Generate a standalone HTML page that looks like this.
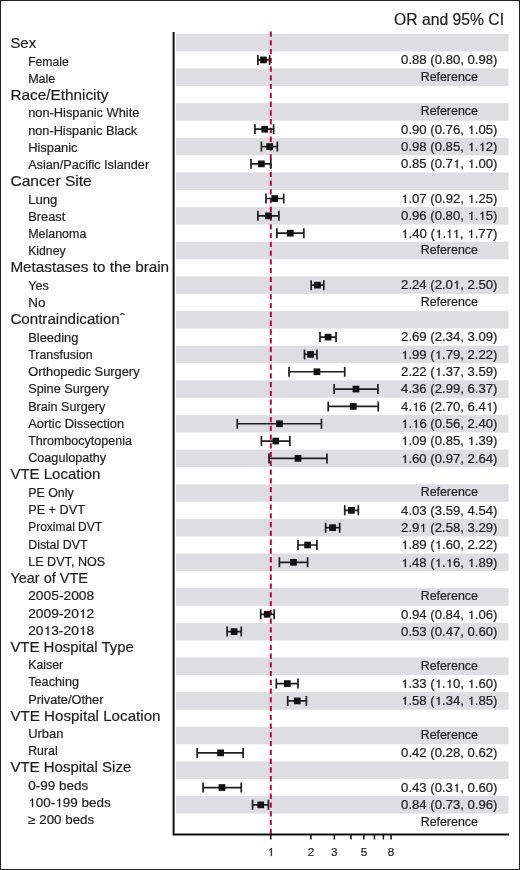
<!DOCTYPE html><html><head><meta charset="utf-8"><style>html,body{margin:0;padding:0;background:#fff;}svg{display:block;will-change:transform;}text{font-family:"Liberation Sans",sans-serif;stroke:#1e1e1e;stroke-width:0.2px;}.o1{fill:none;stroke:none;}</style></head><body>
<svg width="520" height="870" viewBox="0 0 520 870">
<rect x="0" y="0" width="520" height="870" fill="#fff"/>
<rect x="176" y="33.85" width="332.50" height="17.50" fill="#dedde2"/>
<rect x="176" y="68.50" width="332.50" height="17.50" fill="#dedde2"/>
<rect x="176" y="103.15" width="332.50" height="17.50" fill="#dedde2"/>
<rect x="176" y="137.80" width="332.50" height="17.50" fill="#dedde2"/>
<rect x="176" y="172.44" width="332.50" height="17.50" fill="#dedde2"/>
<rect x="176" y="207.09" width="332.50" height="17.50" fill="#dedde2"/>
<rect x="176" y="241.74" width="332.50" height="17.50" fill="#dedde2"/>
<rect x="176" y="276.39" width="332.50" height="17.50" fill="#dedde2"/>
<rect x="176" y="311.04" width="332.50" height="17.50" fill="#dedde2"/>
<rect x="176" y="345.68" width="332.50" height="17.50" fill="#dedde2"/>
<rect x="176" y="380.33" width="332.50" height="17.50" fill="#dedde2"/>
<rect x="176" y="414.98" width="332.50" height="17.50" fill="#dedde2"/>
<rect x="176" y="449.63" width="332.50" height="17.50" fill="#dedde2"/>
<rect x="176" y="484.28" width="332.50" height="17.50" fill="#dedde2"/>
<rect x="176" y="518.92" width="332.50" height="17.50" fill="#dedde2"/>
<rect x="176" y="553.57" width="332.50" height="17.50" fill="#dedde2"/>
<rect x="176" y="588.22" width="332.50" height="17.50" fill="#dedde2"/>
<rect x="176" y="622.87" width="332.50" height="17.50" fill="#dedde2"/>
<rect x="176" y="657.52" width="332.50" height="17.50" fill="#dedde2"/>
<rect x="176" y="692.16" width="332.50" height="17.50" fill="#dedde2"/>
<rect x="176" y="726.81" width="332.50" height="17.50" fill="#dedde2"/>
<rect x="176" y="761.46" width="332.50" height="17.50" fill="#dedde2"/>
<rect x="176" y="796.11" width="332.50" height="17.50" fill="#dedde2"/>
<text x="394.0" y="25.0" font-size="15.6" textLength="110.0" lengthAdjust="spacingAndGlyphs" fill="#1e1e1e">OR and 95% CI</text>
<text x="10.4" y="48.20" font-size="15.5" textLength="25.72" lengthAdjust="spacingAndGlyphs" fill="#1e1e1e">Sex</text>
<text x="28.2" y="65.74" font-size="12.5" textLength="40.49" lengthAdjust="spacingAndGlyphs" fill="#1e1e1e">Female</text>
<text x="449.3" y="64.20" font-size="12" text-anchor="middle" textLength="96.4" lengthAdjust="spacingAndGlyphs" fill="#1e1e1e">0.88 (0.80, 0.98)</text>
<text x="28.2" y="82.99" font-size="12.5" textLength="27.09" lengthAdjust="spacingAndGlyphs" fill="#1e1e1e">Male</text>
<text x="449.3" y="80.53" font-size="12" text-anchor="middle" textLength="57.2" lengthAdjust="spacingAndGlyphs" fill="#1e1e1e">Reference</text>
<text x="10.4" y="99.93" font-size="15.5" textLength="98.08" lengthAdjust="spacingAndGlyphs" fill="#1e1e1e">Race/Ethnicity</text>
<text x="28.2" y="117.47" font-size="12.5" textLength="111.19" lengthAdjust="spacingAndGlyphs" fill="#1e1e1e">non-Hispanic White</text>
<text x="449.3" y="115.19" font-size="12" text-anchor="middle" textLength="57.2" lengthAdjust="spacingAndGlyphs" fill="#1e1e1e">Reference</text>
<text x="28.2" y="134.71" font-size="12.5" textLength="109.00" lengthAdjust="spacingAndGlyphs" fill="#1e1e1e">non-Hispanic Black</text>
<text x="449.3" y="133.52" font-size="12" text-anchor="middle" textLength="96.4" lengthAdjust="spacingAndGlyphs" fill="#1e1e1e">0.90 (0.76, <tspan class="o1">1</tspan>.05)</text>
<text x="28.2" y="151.96" font-size="12.5" textLength="49.34" lengthAdjust="spacingAndGlyphs" fill="#1e1e1e">Hispanic</text>
<text x="449.3" y="150.85" font-size="12" text-anchor="middle" textLength="96.4" lengthAdjust="spacingAndGlyphs" fill="#1e1e1e">0.98 (0.85, <tspan class="o1">1</tspan>.<tspan class="o1">1</tspan>2)</text>
<text x="28.2" y="169.20" font-size="12.5" textLength="120.92" lengthAdjust="spacingAndGlyphs" fill="#1e1e1e">Asian/Pacific Islander</text>
<text x="449.3" y="168.18" font-size="12" text-anchor="middle" textLength="96.4" lengthAdjust="spacingAndGlyphs" fill="#1e1e1e">0.85 (0.7<tspan class="o1">1</tspan>, <tspan class="o1">1</tspan>.00)</text>
<text x="10.4" y="186.14" font-size="15.5" textLength="81.38" lengthAdjust="spacingAndGlyphs" fill="#1e1e1e">Cancer Site</text>
<text x="28.2" y="203.69" font-size="12.5" textLength="29.21" lengthAdjust="spacingAndGlyphs" fill="#1e1e1e">Lung</text>
<text x="449.3" y="202.84" font-size="12" text-anchor="middle" textLength="96.4" lengthAdjust="spacingAndGlyphs" fill="#1e1e1e"><tspan class="o1">1</tspan>.07 (0.92, <tspan class="o1">1</tspan>.25)</text>
<text x="28.2" y="220.93" font-size="12.5" textLength="37.14" lengthAdjust="spacingAndGlyphs" fill="#1e1e1e">Breast</text>
<text x="449.3" y="220.17" font-size="12" text-anchor="middle" textLength="96.4" lengthAdjust="spacingAndGlyphs" fill="#1e1e1e">0.96 (0.80, <tspan class="o1">1</tspan>.<tspan class="o1">1</tspan>5)</text>
<text x="28.2" y="238.17" font-size="12.5" textLength="58.18" lengthAdjust="spacingAndGlyphs" fill="#1e1e1e">Melanoma</text>
<text x="449.3" y="237.50" font-size="12" text-anchor="middle" textLength="96.4" lengthAdjust="spacingAndGlyphs" fill="#1e1e1e"><tspan class="o1">1</tspan>.40 (<tspan class="o1">1</tspan>.<tspan class="o1">1</tspan><tspan class="o1">1</tspan>, <tspan class="o1">1</tspan>.77)</text>
<text x="28.2" y="255.42" font-size="12.5" textLength="37.43" lengthAdjust="spacingAndGlyphs" fill="#1e1e1e">Kidney</text>
<text x="449.3" y="253.83" font-size="12" text-anchor="middle" textLength="57.2" lengthAdjust="spacingAndGlyphs" fill="#1e1e1e">Reference</text>
<text x="10.4" y="272.36" font-size="15.5" textLength="158.73" lengthAdjust="spacingAndGlyphs" fill="#1e1e1e">Metastases to the brain</text>
<text x="28.2" y="289.90" font-size="12.5" textLength="20.61" lengthAdjust="spacingAndGlyphs" fill="#1e1e1e">Yes</text>
<text x="449.3" y="289.49" font-size="12" text-anchor="middle" textLength="96.4" lengthAdjust="spacingAndGlyphs" fill="#1e1e1e">2.24 (2.0<tspan class="o1">1</tspan>, 2.50)</text>
<text x="28.2" y="307.14" font-size="12.5" textLength="17.18" lengthAdjust="spacingAndGlyphs" fill="#1e1e1e">No</text>
<text x="449.3" y="305.82" font-size="12" text-anchor="middle" textLength="57.2" lengthAdjust="spacingAndGlyphs" fill="#1e1e1e">Reference</text>
<text x="10.4" y="324.09" font-size="15.5" textLength="114.39" lengthAdjust="spacingAndGlyphs" fill="#1e1e1e">Contraindicationˆ</text>
<text x="28.2" y="341.63" font-size="12.5" textLength="50.26" lengthAdjust="spacingAndGlyphs" fill="#1e1e1e">Bleeding</text>
<text x="449.3" y="341.48" font-size="12" text-anchor="middle" textLength="96.4" lengthAdjust="spacingAndGlyphs" fill="#1e1e1e">2.69 (2.34, 3.09)</text>
<text x="28.2" y="358.87" font-size="12.5" textLength="64.44" lengthAdjust="spacingAndGlyphs" fill="#1e1e1e">Transfusion</text>
<text x="449.3" y="358.81" font-size="12" text-anchor="middle" textLength="96.4" lengthAdjust="spacingAndGlyphs" fill="#1e1e1e"><tspan class="o1">1</tspan>.99 (<tspan class="o1">1</tspan>.79, 2.22)</text>
<text x="28.2" y="376.12" font-size="12.5" textLength="111.39" lengthAdjust="spacingAndGlyphs" fill="#1e1e1e">Orthopedic Surgery</text>
<text x="449.3" y="376.14" font-size="12" text-anchor="middle" textLength="96.4" lengthAdjust="spacingAndGlyphs" fill="#1e1e1e">2.22 (<tspan class="o1">1</tspan>.37, 3.59)</text>
<text x="28.2" y="393.36" font-size="12.5" textLength="80.62" lengthAdjust="spacingAndGlyphs" fill="#1e1e1e">Spine Surgery</text>
<text x="449.3" y="393.47" font-size="12" text-anchor="middle" textLength="96.4" lengthAdjust="spacingAndGlyphs" fill="#1e1e1e">4.36 (2.99, 6.37)</text>
<text x="28.2" y="410.60" font-size="12.5" textLength="77.04" lengthAdjust="spacingAndGlyphs" fill="#1e1e1e">Brain Surgery</text>
<text x="449.3" y="410.80" font-size="12" text-anchor="middle" textLength="96.4" lengthAdjust="spacingAndGlyphs" fill="#1e1e1e">4.<tspan class="o1">1</tspan>6 (2.70, 6.4<tspan class="o1">1</tspan>)</text>
<text x="28.2" y="427.85" font-size="12.5" textLength="95.89" lengthAdjust="spacingAndGlyphs" fill="#1e1e1e">Aortic Dissection</text>
<text x="449.3" y="428.13" font-size="12" text-anchor="middle" textLength="96.4" lengthAdjust="spacingAndGlyphs" fill="#1e1e1e"><tspan class="o1">1</tspan>.<tspan class="o1">1</tspan>6 (0.56, 2.40)</text>
<text x="28.2" y="445.09" font-size="12.5" textLength="103.73" lengthAdjust="spacingAndGlyphs" fill="#1e1e1e">Thrombocytopenia</text>
<text x="449.3" y="445.46" font-size="12" text-anchor="middle" textLength="96.4" lengthAdjust="spacingAndGlyphs" fill="#1e1e1e"><tspan class="o1">1</tspan>.09 (0.85, <tspan class="o1">1</tspan>.39)</text>
<text x="28.2" y="462.33" font-size="12.5" textLength="77.96" lengthAdjust="spacingAndGlyphs" fill="#1e1e1e">Coagulopathy</text>
<text x="449.3" y="462.79" font-size="12" text-anchor="middle" textLength="96.4" lengthAdjust="spacingAndGlyphs" fill="#1e1e1e"><tspan class="o1">1</tspan>.60 (0.97, 2.64)</text>
<text x="10.4" y="479.27" font-size="15.5" textLength="90.06" lengthAdjust="spacingAndGlyphs" fill="#1e1e1e">VTE Location</text>
<text x="28.2" y="496.82" font-size="12.5" textLength="45.46" lengthAdjust="spacingAndGlyphs" fill="#1e1e1e">PE Only</text>
<text x="449.3" y="496.45" font-size="12" text-anchor="middle" textLength="57.2" lengthAdjust="spacingAndGlyphs" fill="#1e1e1e">Reference</text>
<text x="28.2" y="514.06" font-size="12.5" textLength="56.72" lengthAdjust="spacingAndGlyphs" fill="#1e1e1e">PE + DVT</text>
<text x="449.3" y="514.78" font-size="12" text-anchor="middle" textLength="96.4" lengthAdjust="spacingAndGlyphs" fill="#1e1e1e">4.03 (3.59, 4.54)</text>
<text x="28.2" y="531.30" font-size="12.5" textLength="73.89" lengthAdjust="spacingAndGlyphs" fill="#1e1e1e">Proximal DVT</text>
<text x="449.3" y="532.11" font-size="12" text-anchor="middle" textLength="96.4" lengthAdjust="spacingAndGlyphs" fill="#1e1e1e">2.9<tspan class="o1">1</tspan> (2.58, 3.29)</text>
<text x="28.2" y="548.55" font-size="12.5" textLength="59.33" lengthAdjust="spacingAndGlyphs" fill="#1e1e1e">Distal DVT</text>
<text x="449.3" y="549.44" font-size="12" text-anchor="middle" textLength="96.4" lengthAdjust="spacingAndGlyphs" fill="#1e1e1e"><tspan class="o1">1</tspan>.89 (<tspan class="o1">1</tspan>.60, 2.22)</text>
<text x="28.2" y="565.79" font-size="12.5" textLength="77.02" lengthAdjust="spacingAndGlyphs" fill="#1e1e1e">LE DVT, NOS</text>
<text x="449.3" y="566.77" font-size="12" text-anchor="middle" textLength="96.4" lengthAdjust="spacingAndGlyphs" fill="#1e1e1e"><tspan class="o1">1</tspan>.48 (<tspan class="o1">1</tspan>.<tspan class="o1">1</tspan>6, <tspan class="o1">1</tspan>.89)</text>
<text x="10.4" y="582.73" font-size="15.5" textLength="77.62" lengthAdjust="spacingAndGlyphs" fill="#1e1e1e">Year of VTE</text>
<text x="28.2" y="600.28" font-size="12.5" textLength="65.98" lengthAdjust="spacingAndGlyphs" fill="#1e1e1e">2005-2008</text>
<text x="449.3" y="600.43" font-size="12" text-anchor="middle" textLength="57.2" lengthAdjust="spacingAndGlyphs" fill="#1e1e1e">Reference</text>
<text x="28.2" y="617.52" font-size="12.5" textLength="65.98" lengthAdjust="spacingAndGlyphs" fill="#1e1e1e">2009-20<tspan class="o1">1</tspan>2</text>
<text x="449.3" y="618.76" font-size="12" text-anchor="middle" textLength="96.4" lengthAdjust="spacingAndGlyphs" fill="#1e1e1e">0.94 (0.84, <tspan class="o1">1</tspan>.06)</text>
<text x="28.2" y="634.76" font-size="12.5" textLength="65.98" lengthAdjust="spacingAndGlyphs" fill="#1e1e1e">20<tspan class="o1">1</tspan>3-20<tspan class="o1">1</tspan>8</text>
<text x="449.3" y="636.09" font-size="12" text-anchor="middle" textLength="96.4" lengthAdjust="spacingAndGlyphs" fill="#1e1e1e">0.53 (0.47, 0.60)</text>
<text x="10.4" y="651.71" font-size="15.5" textLength="123.49" lengthAdjust="spacingAndGlyphs" fill="#1e1e1e">VTE Hospital Type</text>
<text x="28.2" y="669.25" font-size="12.5" textLength="35.04" lengthAdjust="spacingAndGlyphs" fill="#1e1e1e">Kaiser</text>
<text x="449.3" y="669.75" font-size="12" text-anchor="middle" textLength="57.2" lengthAdjust="spacingAndGlyphs" fill="#1e1e1e">Reference</text>
<text x="28.2" y="686.49" font-size="12.5" textLength="50.85" lengthAdjust="spacingAndGlyphs" fill="#1e1e1e">Teaching</text>
<text x="449.3" y="688.08" font-size="12" text-anchor="middle" textLength="96.4" lengthAdjust="spacingAndGlyphs" fill="#1e1e1e"><tspan class="o1">1</tspan>.33 (<tspan class="o1">1</tspan>.<tspan class="o1">1</tspan>0, <tspan class="o1">1</tspan>.60)</text>
<text x="28.2" y="703.73" font-size="12.5" textLength="75.24" lengthAdjust="spacingAndGlyphs" fill="#1e1e1e">Private/Other</text>
<text x="449.3" y="705.41" font-size="12" text-anchor="middle" textLength="96.4" lengthAdjust="spacingAndGlyphs" fill="#1e1e1e"><tspan class="o1">1</tspan>.58 (<tspan class="o1">1</tspan>.34, <tspan class="o1">1</tspan>.85)</text>
<text x="10.4" y="720.68" font-size="15.5" textLength="150.16" lengthAdjust="spacingAndGlyphs" fill="#1e1e1e">VTE Hospital Location</text>
<text x="28.2" y="738.22" font-size="12.5" textLength="35.25" lengthAdjust="spacingAndGlyphs" fill="#1e1e1e">Urban</text>
<text x="449.3" y="739.07" font-size="12" text-anchor="middle" textLength="57.2" lengthAdjust="spacingAndGlyphs" fill="#1e1e1e">Reference</text>
<text x="28.2" y="755.46" font-size="12.5" textLength="29.47" lengthAdjust="spacingAndGlyphs" fill="#1e1e1e">Rural</text>
<text x="449.3" y="757.40" font-size="12" text-anchor="middle" textLength="96.4" lengthAdjust="spacingAndGlyphs" fill="#1e1e1e">0.42 (0.28, 0.62)</text>
<text x="10.4" y="772.41" font-size="15.5" textLength="120.92" lengthAdjust="spacingAndGlyphs" fill="#1e1e1e">VTE Hospital Size</text>
<text x="28.2" y="789.95" font-size="12.5" textLength="60.01" lengthAdjust="spacingAndGlyphs" fill="#1e1e1e">0-99 beds</text>
<text x="449.3" y="792.06" font-size="12" text-anchor="middle" textLength="96.4" lengthAdjust="spacingAndGlyphs" fill="#1e1e1e">0.43 (0.3<tspan class="o1">1</tspan>, 0.60)</text>
<text x="28.2" y="807.19" font-size="12.5" textLength="82.45" lengthAdjust="spacingAndGlyphs" fill="#1e1e1e"><tspan class="o1">1</tspan>00-<tspan class="o1">1</tspan>99 beds</text>
<text x="449.3" y="809.39" font-size="12" text-anchor="middle" textLength="96.4" lengthAdjust="spacingAndGlyphs" fill="#1e1e1e">0.84 (0.73, 0.96)</text>
<text x="28.2" y="824.43" font-size="12.5" textLength="65.98" lengthAdjust="spacingAndGlyphs" fill="#1e1e1e">≥ 200 beds</text>
<text x="449.3" y="825.72" font-size="12" text-anchor="middle" textLength="57.2" lengthAdjust="spacingAndGlyphs" fill="#1e1e1e">Reference</text>
<line x1="270.8" y1="31.5" x2="270.8" y2="834" stroke="#b00e3c" stroke-width="2" stroke-dasharray="5.3 3.46"/>
<path d="M257.89 59.93H269.63M257.89 54.93V64.93M269.63 54.93V64.93" stroke="#1e1e1e" stroke-width="1.7" fill="none"/>
<rect x="260.06" y="56.58" width="6.7" height="6.7" fill="#111"/>
<path d="M254.92 129.22H273.62M254.92 124.22V134.22M273.62 124.22V134.22" stroke="#1e1e1e" stroke-width="1.7" fill="none"/>
<rect x="261.36" y="125.87" width="6.7" height="6.7" fill="#111"/>
<path d="M261.40 146.55H277.36M261.40 141.55V151.55M277.36 141.55V151.55" stroke="#1e1e1e" stroke-width="1.7" fill="none"/>
<rect x="266.28" y="143.20" width="6.7" height="6.7" fill="#111"/>
<path d="M250.99 163.87H270.80M250.99 158.87V168.87M270.80 158.87V168.87" stroke="#1e1e1e" stroke-width="1.7" fill="none"/>
<rect x="258.05" y="160.52" width="6.7" height="6.7" fill="#111"/>
<path d="M265.98 198.52H283.71M265.98 193.52V203.52M283.71 193.52V203.52" stroke="#1e1e1e" stroke-width="1.7" fill="none"/>
<rect x="271.36" y="195.17" width="6.7" height="6.7" fill="#111"/>
<path d="M257.89 215.84H278.88M257.89 210.84V220.84M278.88 210.84V220.84" stroke="#1e1e1e" stroke-width="1.7" fill="none"/>
<rect x="265.09" y="212.49" width="6.7" height="6.7" fill="#111"/>
<path d="M276.84 233.17H303.83M276.84 228.17V238.17M303.83 228.17V238.17" stroke="#1e1e1e" stroke-width="1.7" fill="none"/>
<rect x="286.91" y="229.82" width="6.7" height="6.7" fill="#111"/>
<path d="M311.19 285.14H323.81M311.19 280.14V290.14M323.81 280.14V290.14" stroke="#1e1e1e" stroke-width="1.7" fill="none"/>
<rect x="314.10" y="281.79" width="6.7" height="6.7" fill="#111"/>
<path d="M319.98 337.11H336.06M319.98 332.11V342.11M336.06 332.11V342.11" stroke="#1e1e1e" stroke-width="1.7" fill="none"/>
<rect x="324.69" y="333.76" width="6.7" height="6.7" fill="#111"/>
<path d="M304.48 354.43H316.93M304.48 349.43V359.43M316.93 349.43V359.43" stroke="#1e1e1e" stroke-width="1.7" fill="none"/>
<rect x="307.26" y="351.08" width="6.7" height="6.7" fill="#111"/>
<path d="M289.01 371.76H344.74M289.01 366.76V376.76M344.74 366.76V376.76" stroke="#1e1e1e" stroke-width="1.7" fill="none"/>
<rect x="313.58" y="368.41" width="6.7" height="6.7" fill="#111"/>
<path d="M334.16 389.08H377.91M334.16 384.08V394.08M377.91 384.08V394.08" stroke="#1e1e1e" stroke-width="1.7" fill="none"/>
<rect x="352.63" y="385.73" width="6.7" height="6.7" fill="#111"/>
<path d="M328.26 406.41H378.27M328.26 401.41V411.41M378.27 401.41V411.41" stroke="#1e1e1e" stroke-width="1.7" fill="none"/>
<rect x="349.91" y="403.06" width="6.7" height="6.7" fill="#111"/>
<path d="M237.26 423.73H321.44M237.26 418.73V428.73M321.44 418.73V428.73" stroke="#1e1e1e" stroke-width="1.7" fill="none"/>
<rect x="276.04" y="420.38" width="6.7" height="6.7" fill="#111"/>
<path d="M261.40 441.05H289.85M261.40 436.05V446.05M289.85 436.05V446.05" stroke="#1e1e1e" stroke-width="1.7" fill="none"/>
<rect x="272.44" y="437.70" width="6.7" height="6.7" fill="#111"/>
<path d="M269.04 458.38H326.96M269.04 453.38V463.38M326.96 453.38V463.38" stroke="#1e1e1e" stroke-width="1.7" fill="none"/>
<rect x="294.64" y="455.03" width="6.7" height="6.7" fill="#111"/>
<path d="M344.74 510.35H358.32M344.74 505.35V515.35M358.32 505.35V515.35" stroke="#1e1e1e" stroke-width="1.7" fill="none"/>
<rect x="348.08" y="507.00" width="6.7" height="6.7" fill="#111"/>
<path d="M325.63 527.67H339.69M325.63 522.67V532.67M339.69 522.67V532.67" stroke="#1e1e1e" stroke-width="1.7" fill="none"/>
<rect x="329.24" y="524.32" width="6.7" height="6.7" fill="#111"/>
<path d="M297.99 545.00H316.93M297.99 540.00V550.00M316.93 540.00V550.00" stroke="#1e1e1e" stroke-width="1.7" fill="none"/>
<rect x="304.27" y="541.65" width="6.7" height="6.7" fill="#111"/>
<path d="M279.39 562.32H307.62M279.39 557.32V567.32M307.62 557.32V567.32" stroke="#1e1e1e" stroke-width="1.7" fill="none"/>
<rect x="290.13" y="558.97" width="6.7" height="6.7" fill="#111"/>
<path d="M260.71 614.29H274.17M260.71 609.29V619.29M274.17 609.29V619.29" stroke="#1e1e1e" stroke-width="1.7" fill="none"/>
<rect x="263.87" y="610.94" width="6.7" height="6.7" fill="#111"/>
<path d="M227.12 631.62H241.25M227.12 626.62V636.62M241.25 626.62V636.62" stroke="#1e1e1e" stroke-width="1.7" fill="none"/>
<rect x="230.72" y="628.27" width="6.7" height="6.7" fill="#111"/>
<path d="M276.31 683.59H297.99M276.31 678.59V688.59M297.99 678.59V688.59" stroke="#1e1e1e" stroke-width="1.7" fill="none"/>
<rect x="283.95" y="680.24" width="6.7" height="6.7" fill="#111"/>
<path d="M287.73 700.91H306.39M287.73 695.91V705.91M306.39 695.91V705.91" stroke="#1e1e1e" stroke-width="1.7" fill="none"/>
<rect x="293.91" y="697.56" width="6.7" height="6.7" fill="#111"/>
<path d="M197.16 752.89H243.15M197.16 747.89V757.89M243.15 747.89V757.89" stroke="#1e1e1e" stroke-width="1.7" fill="none"/>
<rect x="217.27" y="749.54" width="6.7" height="6.7" fill="#111"/>
<path d="M203.05 787.53H241.25M203.05 782.53V792.53M241.25 782.53V792.53" stroke="#1e1e1e" stroke-width="1.7" fill="none"/>
<rect x="218.63" y="784.18" width="6.7" height="6.7" fill="#111"/>
<path d="M252.59 804.86H268.44M252.59 799.86V809.86M268.44 799.86V809.86" stroke="#1e1e1e" stroke-width="1.7" fill="none"/>
<rect x="257.36" y="801.51" width="6.7" height="6.7" fill="#111"/>
<path d="M173.6 32V834.4H509" stroke="#111" stroke-width="2" fill="none"/>
<line x1="270.80" y1="835" x2="270.80" y2="839.5" stroke="#111" stroke-width="1.5"/>
<line x1="310.90" y1="835" x2="310.90" y2="839.5" stroke="#111" stroke-width="1.5"/>
<line x1="334.35" y1="835" x2="334.35" y2="839.5" stroke="#111" stroke-width="1.5"/>
<line x1="350.99" y1="835" x2="350.99" y2="839.5" stroke="#111" stroke-width="1.5"/>
<line x1="363.90" y1="835" x2="363.90" y2="839.5" stroke="#111" stroke-width="1.5"/>
<line x1="374.45" y1="835" x2="374.45" y2="839.5" stroke="#111" stroke-width="1.5"/>
<line x1="383.37" y1="835" x2="383.37" y2="839.5" stroke="#111" stroke-width="1.5"/>
<line x1="391.09" y1="835" x2="391.09" y2="839.5" stroke="#111" stroke-width="1.5"/>
<text x="270.80" y="855.7" font-size="11.6" text-anchor="middle" fill="#1e1e1e"><tspan class="o1">1</tspan></text>
<text x="310.90" y="855.7" font-size="11.6" text-anchor="middle" fill="#1e1e1e">2</text>
<text x="334.35" y="855.7" font-size="11.6" text-anchor="middle" fill="#1e1e1e">3</text>
<text x="363.90" y="855.7" font-size="11.6" text-anchor="middle" fill="#1e1e1e">5</text>
<text x="391.09" y="855.7" font-size="11.6" text-anchor="middle" fill="#1e1e1e">8</text>
<path d="M751 0H570V1110Q510 1050 430 1010T290 960V1110Q420 1160 500 1250T600 1409H751Z" transform="matrix(0.00642 0 0 -0.00586 467.54 134)" fill="#1e1e1e" stroke="#1e1e1e" stroke-width="34.13"/>
<path d="M751 0H570V1110Q510 1050 430 1010T290 960V1110Q420 1160 500 1250T600 1409H751Z" transform="matrix(0.00642 0 0 -0.00586 467.53 151)" fill="#1e1e1e" stroke="#1e1e1e" stroke-width="34.13"/>
<path d="M751 0H570V1110Q510 1050 430 1010T290 960V1110Q420 1160 500 1250T600 1409H751Z" transform="matrix(0.00642 0 0 -0.00586 478.51 151)" fill="#1e1e1e" stroke="#1e1e1e" stroke-width="34.13"/>
<path d="M751 0H570V1110Q510 1050 430 1010T290 960V1110Q420 1160 500 1250T600 1409H751Z" transform="matrix(0.00642 0 0 -0.00586 452.93 168)" fill="#1e1e1e" stroke="#1e1e1e" stroke-width="34.13"/>
<path d="M751 0H570V1110Q510 1050 430 1010T290 960V1110Q420 1160 500 1250T600 1409H751Z" transform="matrix(0.00642 0 0 -0.00586 467.55 168)" fill="#1e1e1e" stroke="#1e1e1e" stroke-width="34.13"/>
<path d="M751 0H570V1110Q510 1050 430 1010T290 960V1110Q420 1160 500 1250T600 1409H751Z" transform="matrix(0.00642 0 0 -0.00586 401.10 203)" fill="#1e1e1e" stroke="#1e1e1e" stroke-width="34.13"/>
<path d="M751 0H570V1110Q510 1050 430 1010T290 960V1110Q420 1160 500 1250T600 1409H751Z" transform="matrix(0.00642 0 0 -0.00586 467.55 203)" fill="#1e1e1e" stroke="#1e1e1e" stroke-width="34.13"/>
<path d="M751 0H570V1110Q510 1050 430 1010T290 960V1110Q420 1160 500 1250T600 1409H751Z" transform="matrix(0.00642 0 0 -0.00586 467.53 220)" fill="#1e1e1e" stroke="#1e1e1e" stroke-width="34.13"/>
<path d="M751 0H570V1110Q510 1050 430 1010T290 960V1110Q420 1160 500 1250T600 1409H751Z" transform="matrix(0.00642 0 0 -0.00586 478.51 220)" fill="#1e1e1e" stroke="#1e1e1e" stroke-width="34.13"/>
<path d="M751 0H570V1110Q510 1050 430 1010T290 960V1110Q420 1160 500 1250T600 1409H751Z" transform="matrix(0.00649 0 0 -0.00586 401.10 238)" fill="#1e1e1e" stroke="#1e1e1e" stroke-width="34.13"/>
<path d="M751 0H570V1110Q510 1050 430 1010T290 960V1110Q420 1160 500 1250T600 1409H751Z" transform="matrix(0.00649 0 0 -0.00586 435.02 238)" fill="#1e1e1e" stroke="#1e1e1e" stroke-width="34.13"/>
<path d="M751 0H570V1110Q510 1050 430 1010T290 960V1110Q420 1160 500 1250T600 1409H751Z" transform="matrix(0.00562 0 0 -0.00586 446.10 238)" fill="#1e1e1e" stroke="#1e1e1e" stroke-width="34.13"/>
<path d="M751 0H570V1110Q510 1050 430 1010T290 960V1110Q420 1160 500 1250T600 1409H751Z" transform="matrix(0.00649 0 0 -0.00586 452.50 238)" fill="#1e1e1e" stroke="#1e1e1e" stroke-width="34.13"/>
<path d="M751 0H570V1110Q510 1050 430 1010T290 960V1110Q420 1160 500 1250T600 1409H751Z" transform="matrix(0.00649 0 0 -0.00586 467.26 238)" fill="#1e1e1e" stroke="#1e1e1e" stroke-width="34.13"/>
<path d="M751 0H570V1110Q510 1050 430 1010T290 960V1110Q420 1160 500 1250T600 1409H751Z" transform="matrix(0.00642 0 0 -0.00586 452.94 289)" fill="#1e1e1e" stroke="#1e1e1e" stroke-width="34.13"/>
<path d="M751 0H570V1110Q510 1050 430 1010T290 960V1110Q420 1160 500 1250T600 1409H751Z" transform="matrix(0.00642 0 0 -0.00586 401.10 359)" fill="#1e1e1e" stroke="#1e1e1e" stroke-width="34.13"/>
<path d="M751 0H570V1110Q510 1050 430 1010T290 960V1110Q420 1160 500 1250T600 1409H751Z" transform="matrix(0.00642 0 0 -0.00586 434.70 359)" fill="#1e1e1e" stroke="#1e1e1e" stroke-width="34.13"/>
<path d="M751 0H570V1110Q510 1050 430 1010T290 960V1110Q420 1160 500 1250T600 1409H751Z" transform="matrix(0.00643 0 0 -0.00586 434.69 376)" fill="#1e1e1e" stroke="#1e1e1e" stroke-width="34.13"/>
<path d="M751 0H570V1110Q510 1050 430 1010T290 960V1110Q420 1160 500 1250T600 1409H751Z" transform="matrix(0.00642 0 0 -0.00586 412.06 411)" fill="#1e1e1e" stroke="#1e1e1e" stroke-width="34.13"/>
<path d="M751 0H570V1110Q510 1050 430 1010T290 960V1110Q420 1160 500 1250T600 1409H751Z" transform="matrix(0.00642 0 0 -0.00586 485.81 411)" fill="#1e1e1e" stroke="#1e1e1e" stroke-width="34.13"/>
<path d="M751 0H570V1110Q510 1050 430 1010T290 960V1110Q420 1160 500 1250T600 1409H751Z" transform="matrix(0.00642 0 0 -0.00586 401.10 428)" fill="#1e1e1e" stroke="#1e1e1e" stroke-width="34.13"/>
<path d="M751 0H570V1110Q510 1050 430 1010T290 960V1110Q420 1160 500 1250T600 1409H751Z" transform="matrix(0.00642 0 0 -0.00586 412.08 428)" fill="#1e1e1e" stroke="#1e1e1e" stroke-width="34.13"/>
<path d="M751 0H570V1110Q510 1050 430 1010T290 960V1110Q420 1160 500 1250T600 1409H751Z" transform="matrix(0.00642 0 0 -0.00586 401.10 445)" fill="#1e1e1e" stroke="#1e1e1e" stroke-width="34.13"/>
<path d="M751 0H570V1110Q510 1050 430 1010T290 960V1110Q420 1160 500 1250T600 1409H751Z" transform="matrix(0.00642 0 0 -0.00586 467.55 445)" fill="#1e1e1e" stroke="#1e1e1e" stroke-width="34.13"/>
<path d="M751 0H570V1110Q510 1050 430 1010T290 960V1110Q420 1160 500 1250T600 1409H751Z" transform="matrix(0.00643 0 0 -0.00586 401.10 463)" fill="#1e1e1e" stroke="#1e1e1e" stroke-width="34.13"/>
<path d="M751 0H570V1110Q510 1050 430 1010T290 960V1110Q420 1160 500 1250T600 1409H751Z" transform="matrix(0.00642 0 0 -0.00586 419.36 532)" fill="#1e1e1e" stroke="#1e1e1e" stroke-width="34.13"/>
<path d="M751 0H570V1110Q510 1050 430 1010T290 960V1110Q420 1160 500 1250T600 1409H751Z" transform="matrix(0.00642 0 0 -0.00586 401.10 549)" fill="#1e1e1e" stroke="#1e1e1e" stroke-width="34.13"/>
<path d="M751 0H570V1110Q510 1050 430 1010T290 960V1110Q420 1160 500 1250T600 1409H751Z" transform="matrix(0.00642 0 0 -0.00586 434.70 549)" fill="#1e1e1e" stroke="#1e1e1e" stroke-width="34.13"/>
<path d="M751 0H570V1110Q510 1050 430 1010T290 960V1110Q420 1160 500 1250T600 1409H751Z" transform="matrix(0.00642 0 0 -0.00586 401.10 567)" fill="#1e1e1e" stroke="#1e1e1e" stroke-width="34.13"/>
<path d="M751 0H570V1110Q510 1050 430 1010T290 960V1110Q420 1160 500 1250T600 1409H751Z" transform="matrix(0.00642 0 0 -0.00586 434.68 567)" fill="#1e1e1e" stroke="#1e1e1e" stroke-width="34.13"/>
<path d="M751 0H570V1110Q510 1050 430 1010T290 960V1110Q420 1160 500 1250T600 1409H751Z" transform="matrix(0.00642 0 0 -0.00586 445.65 567)" fill="#1e1e1e" stroke="#1e1e1e" stroke-width="34.13"/>
<path d="M751 0H570V1110Q510 1050 430 1010T290 960V1110Q420 1160 500 1250T600 1409H751Z" transform="matrix(0.00642 0 0 -0.00586 467.56 567)" fill="#1e1e1e" stroke="#1e1e1e" stroke-width="34.13"/>
<path d="M751 0H570V1110Q510 1050 430 1010T290 960V1110Q420 1160 500 1250T600 1409H751Z" transform="matrix(0.00674 0 0 -0.00610 78.83 618)" fill="#1e1e1e" stroke="#1e1e1e" stroke-width="32.77"/>
<path d="M751 0H570V1110Q510 1050 430 1010T290 960V1110Q420 1160 500 1250T600 1409H751Z" transform="matrix(0.00642 0 0 -0.00586 467.54 619)" fill="#1e1e1e" stroke="#1e1e1e" stroke-width="34.13"/>
<path d="M751 0H570V1110Q510 1050 430 1010T290 960V1110Q420 1160 500 1250T600 1409H751Z" transform="matrix(0.00674 0 0 -0.00610 43.54 635)" fill="#1e1e1e" stroke="#1e1e1e" stroke-width="32.77"/>
<path d="M751 0H570V1110Q510 1050 430 1010T290 960V1110Q420 1160 500 1250T600 1409H751Z" transform="matrix(0.00674 0 0 -0.00610 78.84 635)" fill="#1e1e1e" stroke="#1e1e1e" stroke-width="32.77"/>
<path d="M751 0H570V1110Q510 1050 430 1010T290 960V1110Q420 1160 500 1250T600 1409H751Z" transform="matrix(0.00642 0 0 -0.00586 401.10 688)" fill="#1e1e1e" stroke="#1e1e1e" stroke-width="34.13"/>
<path d="M751 0H570V1110Q510 1050 430 1010T290 960V1110Q420 1160 500 1250T600 1409H751Z" transform="matrix(0.00642 0 0 -0.00586 434.68 688)" fill="#1e1e1e" stroke="#1e1e1e" stroke-width="34.13"/>
<path d="M751 0H570V1110Q510 1050 430 1010T290 960V1110Q420 1160 500 1250T600 1409H751Z" transform="matrix(0.00642 0 0 -0.00586 445.65 688)" fill="#1e1e1e" stroke="#1e1e1e" stroke-width="34.13"/>
<path d="M751 0H570V1110Q510 1050 430 1010T290 960V1110Q420 1160 500 1250T600 1409H751Z" transform="matrix(0.00642 0 0 -0.00586 467.56 688)" fill="#1e1e1e" stroke="#1e1e1e" stroke-width="34.13"/>
<path d="M751 0H570V1110Q510 1050 430 1010T290 960V1110Q420 1160 500 1250T600 1409H751Z" transform="matrix(0.00642 0 0 -0.00586 401.10 705)" fill="#1e1e1e" stroke="#1e1e1e" stroke-width="34.13"/>
<path d="M751 0H570V1110Q510 1050 430 1010T290 960V1110Q420 1160 500 1250T600 1409H751Z" transform="matrix(0.00642 0 0 -0.00586 434.69 705)" fill="#1e1e1e" stroke="#1e1e1e" stroke-width="34.13"/>
<path d="M751 0H570V1110Q510 1050 430 1010T290 960V1110Q420 1160 500 1250T600 1409H751Z" transform="matrix(0.00642 0 0 -0.00586 467.55 705)" fill="#1e1e1e" stroke="#1e1e1e" stroke-width="34.13"/>
<path d="M751 0H570V1110Q510 1050 430 1010T290 960V1110Q420 1160 500 1250T600 1409H751Z" transform="matrix(0.00642 0 0 -0.00586 452.94 792)" fill="#1e1e1e" stroke="#1e1e1e" stroke-width="34.13"/>
<path d="M751 0H570V1110Q510 1050 430 1010T290 960V1110Q420 1160 500 1250T600 1409H751Z" transform="matrix(0.00658 0 0 -0.00610 28.20 807)" fill="#1e1e1e" stroke="#1e1e1e" stroke-width="32.77"/>
<path d="M751 0H570V1110Q510 1050 430 1010T290 960V1110Q420 1160 500 1250T600 1409H751Z" transform="matrix(0.00658 0 0 -0.00610 55.19 807)" fill="#1e1e1e" stroke="#1e1e1e" stroke-width="32.77"/>
<path d="M751 0H570V1110Q510 1050 430 1010T290 960V1110Q420 1160 500 1250T600 1409H751Z" transform="matrix(0.00567 0 0 -0.00566 267.57 856)" fill="#1e1e1e" stroke="#1e1e1e" stroke-width="35.31"/>
<rect x="0.5" y="0.5" width="519" height="869" fill="none" stroke="#222" stroke-width="1"/>
</svg></body></html>
